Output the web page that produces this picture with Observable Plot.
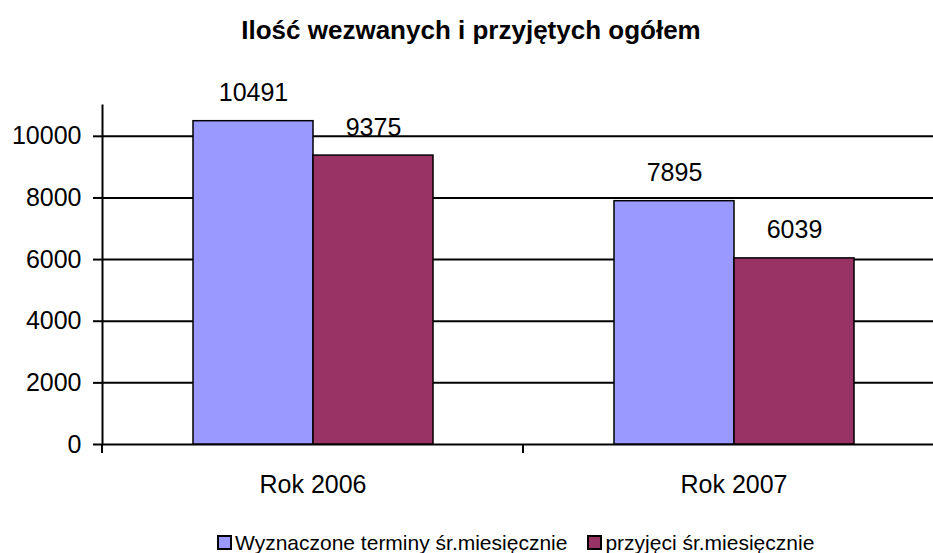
<!DOCTYPE html>
<html>
<head>
<meta charset="utf-8">
<script src="https://cdn.jsdelivr.net/npm/d3@7"></script>
<script src="https://cdn.jsdelivr.net/npm/@observablehq/plot@0.6"></script>
<style>
  html, body { margin: 0; padding: 0; background: #fff; overflow: hidden; }
  body { font-family: "Liberation Sans", Arial, sans-serif; color: #000; width: 933px; height: 553px; }
  #title { height: 60px; line-height: 60px; font-size: 26px; font-weight: bold; text-align: center; padding-left: 9px; width: 924px; white-space: nowrap; }
  #chart { height: 472px; }
  #legend { height: 21px; line-height: 21px; font-size: 21px; white-space: nowrap; display: flex; align-items: center; padding-left: 217px; }
  .item { display: flex; align-items: center; margin-right: 20px; }
  .sw { display: inline-block; width: 11px; height: 11px; border: 2px solid #000; margin-right: 3px; }
</style>
</head>
<body>
<div id="title">Ilość wezwanych i przyjętych ogółem</div>
<div id="chart"></div>
<div id="legend"></div>
<script>
const years = ["Rok 2006", "Rok 2007"];
const series = ["Wyznaczone terminy śr.miesięcznie", "przyjęci śr.miesięcznie"];
const wyznaczone = [10491, 7895];
const przyjeci = [9375, 6039];
const yTicks = [0, 2000, 4000, 6000, 8000, 10000];
const colors = ["#9999FF", "#993366"];

const rows = [];
years.forEach((yr, i) => {
  rows.push({year: yr, series: series[0], value: wyznaczone[i]});
  rows.push({year: yr, series: series[1], value: przyjeci[i]});
});

function edgeTicks(index, scales, values, dimensions) {
  const {marginLeft, marginRight, marginBottom, width, height} = dimensions;
  const yb = height - marginBottom;
  const g = d3.create("svg:g");
  [marginLeft, width - marginRight].forEach(x => {
    g.append("line").attr("x1", x).attr("x2", x).attr("y1", yb).attr("y2", yb + 9)
      .attr("stroke", "black").attr("stroke-width", 2);
  });
  return g.node();
}

const chart = Plot.plot({
  width: 933,
  height: 472,
  marginTop: 45,
  marginBottom: 88,
  marginLeft: 101,
  marginRight: -11,
  fx: {domain: years, padding: 0, label: null},
  x: {domain: series, paddingInner: 0, paddingOuter: 0.74, axis: null},
  y: {domain: [0, 11000], axis: null},
  color: {domain: series, range: colors},
  style: {fontFamily: "'Liberation Sans', Arial, sans-serif", background: "#fff", color: "#000"},
  marks: [
    Plot.ruleY(yTicks, {stroke: "black", strokeWidth: 2}),
    Plot.barY(rows, {fx: "year", x: "series", y: "value", fill: "series", stroke: "black", strokeWidth: 1.5}),
    Plot.text(rows, {fx: "year", x: "series", y: "value", text: d => String(d.value), dy: -28, fontSize: 25, fill: "black"}),
    Plot.axisY({ticks: yTicks, tickSize: 9, tickPadding: 12, fontSize: 25, label: null, strokeWidth: 2, tickFormat: d => String(d)}),
    Plot.axisFx({anchor: "bottom", tickSize: 0, tickPadding: 31, fontSize: 25, label: null}),
    Plot.frame({anchor: "left", facetAnchor: "left", stroke: "black", strokeWidth: 2}),
    edgeTicks
  ]
});
document.getElementById("chart").appendChild(chart);

const legend = document.getElementById("legend");
series.forEach((s, i) => {
  const item = document.createElement("span");
  item.className = "item";
  const sw = document.createElement("span");
  sw.className = "sw";
  sw.style.background = colors[i];
  item.appendChild(sw);
  item.appendChild(document.createTextNode(s));
  legend.appendChild(item);
});
</script>
</body>
</html>
